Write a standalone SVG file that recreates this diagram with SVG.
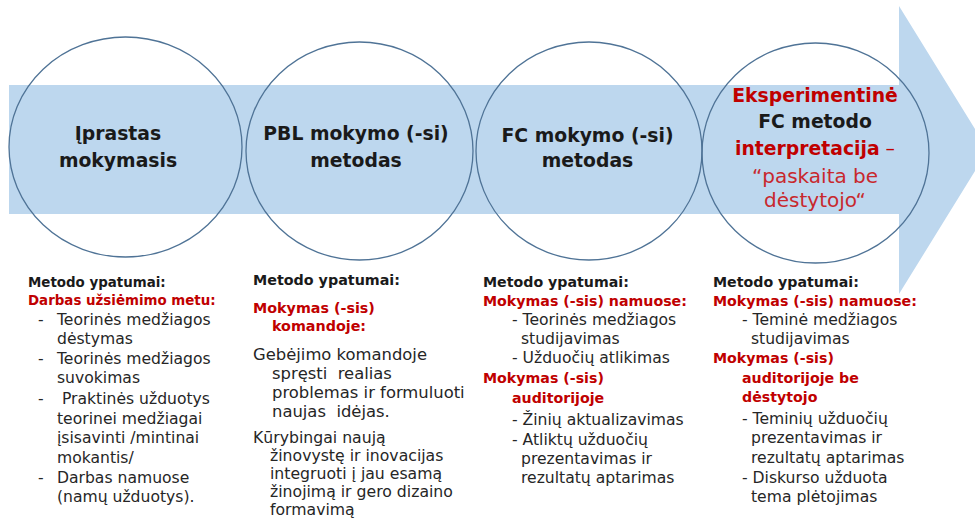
<svg xmlns="http://www.w3.org/2000/svg" width="975" height="518" viewBox="0 0 975 518">
<style>
text{font-family:"DejaVu Sans","Liberation Sans",sans-serif;fill:#262626;white-space:pre}
.t{font-weight:bold;font-size:18.8px;fill:#1a1a1a;text-anchor:middle}
.h{font-weight:bold;font-size:14.2px;fill:#1a1a1a}
.r{font-weight:bold;font-size:14.2px;fill:#c00000}
.b{font-size:15.6px}
.c1 .h,.c1 .r{font-size:13.4px}
.c2 .h,.c2 .r{font-size:14.3px}
.c2 .b{font-size:16.4px}
.c2 .s{font-size:15.7px}
.ring{fill:none;stroke:#4f7396;stroke-width:1.3}
</style>
<g id="arrow">
<path d="M9,85 H899 V6 L988,150 L899,294 V214 H9 Z" fill="#bdd7ee"/>
</g>
<g id="node1">
<ellipse class="ring" cx="125.5" cy="147" rx="116.5" ry="110"/>
<text class="t" x="118" y="140">Įprastas</text>
<text class="t" x="118" y="167">mokymasis</text>
</g>
<g id="node2">
<ellipse class="ring" cx="359.5" cy="151" rx="113.5" ry="109"/>
<text class="t" x="356" y="140">PBL mokymo (-si)</text>
<text class="t" x="356" y="167">metodas</text>
</g>
<g id="node3">
<ellipse class="ring" cx="589" cy="151" rx="113" ry="109"/>
<text class="t" x="587.5" y="142">FC mokymo (-si)</text>
<text class="t" x="587.5" y="167">metodas</text>
</g>
<g id="node4">
<ellipse class="ring" cx="815.5" cy="153" rx="113.5" ry="110"/>
<text class="t" x="815" y="102" style="fill:#c00000">Eksperimentinė</text>
<text class="t" x="815" y="128">FC metodo</text>
<text class="t" x="815" y="155"><tspan style="fill:#c00000">interpretacija</tspan><tspan style="font-weight:normal;fill:#c00000"> –</tspan></text>
<text class="t" x="815" y="183" style="font-weight:normal;font-size:20px;fill:#c8282d">“paskaita be</text>
<text class="t" x="815" y="207" style="font-weight:normal;font-size:20px;fill:#c8282d">dėstytojo“</text>
</g>
<g id="col1" class="c1">
<text class="h" x="28" y="287">Metodo ypatumai:</text>
<text class="r" x="28" y="305">Darbas užsiėmimo metu:</text>
<text class="b" x="38" y="325">-</text>
<text class="b" x="57" y="325">Teorinės medžiagos</text>
<text class="b" x="57" y="344">dėstymas</text>
<text class="b" x="38" y="364">-</text>
<text class="b" x="57" y="364">Teorinės medžiagos</text>
<text class="b" x="57" y="383">suvokimas</text>
<text class="b" x="38" y="404">-</text>
<text class="b" x="57" y="404"> Praktinės užduotys</text>
<text class="b" x="57" y="424">teorinei medžiagai</text>
<text class="b" x="57" y="443">įsisavinti /mintinai</text>
<text class="b" x="57" y="463">mokantis/</text>
<text class="b" x="38" y="483">-</text>
<text class="b" x="57" y="483">Darbas namuose</text>
<text class="b" x="57" y="502">(namų užduotys).</text>
</g>
<g id="col2" class="c2">
<text class="h" x="253" y="285">Metodo ypatumai:</text>
<text class="r" x="253" y="313">Mokymas (-sis)</text>
<text class="r" x="272" y="331">komandoje:</text>
<text class="b" x="253" y="360">Gebėjimo komandoje</text>
<text class="b" x="272" y="379">spręsti  realias</text>
<text class="b" x="272" y="398">problemas ir formuluoti</text>
<text class="b" x="272" y="417">naujas  idėjas.</text>
<text class="b s" x="253" y="443">Kūrybingai naują</text>
<text class="b s" x="270" y="461">žinovystę ir inovacijas</text>
<text class="b s" x="270" y="479">integruoti į jau esamą</text>
<text class="b s" x="270" y="497">žinojimą ir gero dizaino</text>
<text class="b s" x="270" y="515">formavimą</text>
</g>
<g id="col3">
<text class="h" x="483" y="287">Metodo ypatumai:</text>
<text class="r" x="483" y="306">Mokymas (-sis) namuose:</text>
<text class="b" x="512" y="325">- Teorinės medžiagos</text>
<text class="b" x="521" y="344">studijavimas</text>
<text class="b" x="512" y="363">- Užduočių atlikimas</text>
<text class="r" x="483" y="383">Mokymas (-sis)</text>
<text class="r" x="512" y="403">auditorijoje</text>
<text class="b" x="512" y="425">- Žinių aktualizavimas</text>
<text class="b" x="512" y="445">- Atliktų užduočių</text>
<text class="b" x="521" y="464">prezentavimas ir</text>
<text class="b" x="521" y="483">rezultatų aptarimas</text>
</g>
<g id="col4">
<text class="h" x="713" y="287">Metodo ypatumai:</text>
<text class="r" x="713" y="306">Mokymas (-sis) namuose:</text>
<text class="b" x="742" y="325">- Teminė medžiagos</text>
<text class="b" x="751" y="344">studijavimas</text>
<text class="r" x="713" y="363">Mokymas (-sis)</text>
<text class="r" x="742" y="383">auditorijoje be</text>
<text class="r" x="742" y="402">dėstytojo</text>
<text class="b" x="742" y="424">- Teminių užduočių</text>
<text class="b" x="751" y="443">prezentavimas ir</text>
<text class="b" x="751" y="463">rezultatų aptarimas</text>
<text class="b" x="742" y="483">- Diskurso užduota</text>
<text class="b" x="751" y="502">tema plėtojimas</text>
</g>
<g id="connectors"/>
</svg>
